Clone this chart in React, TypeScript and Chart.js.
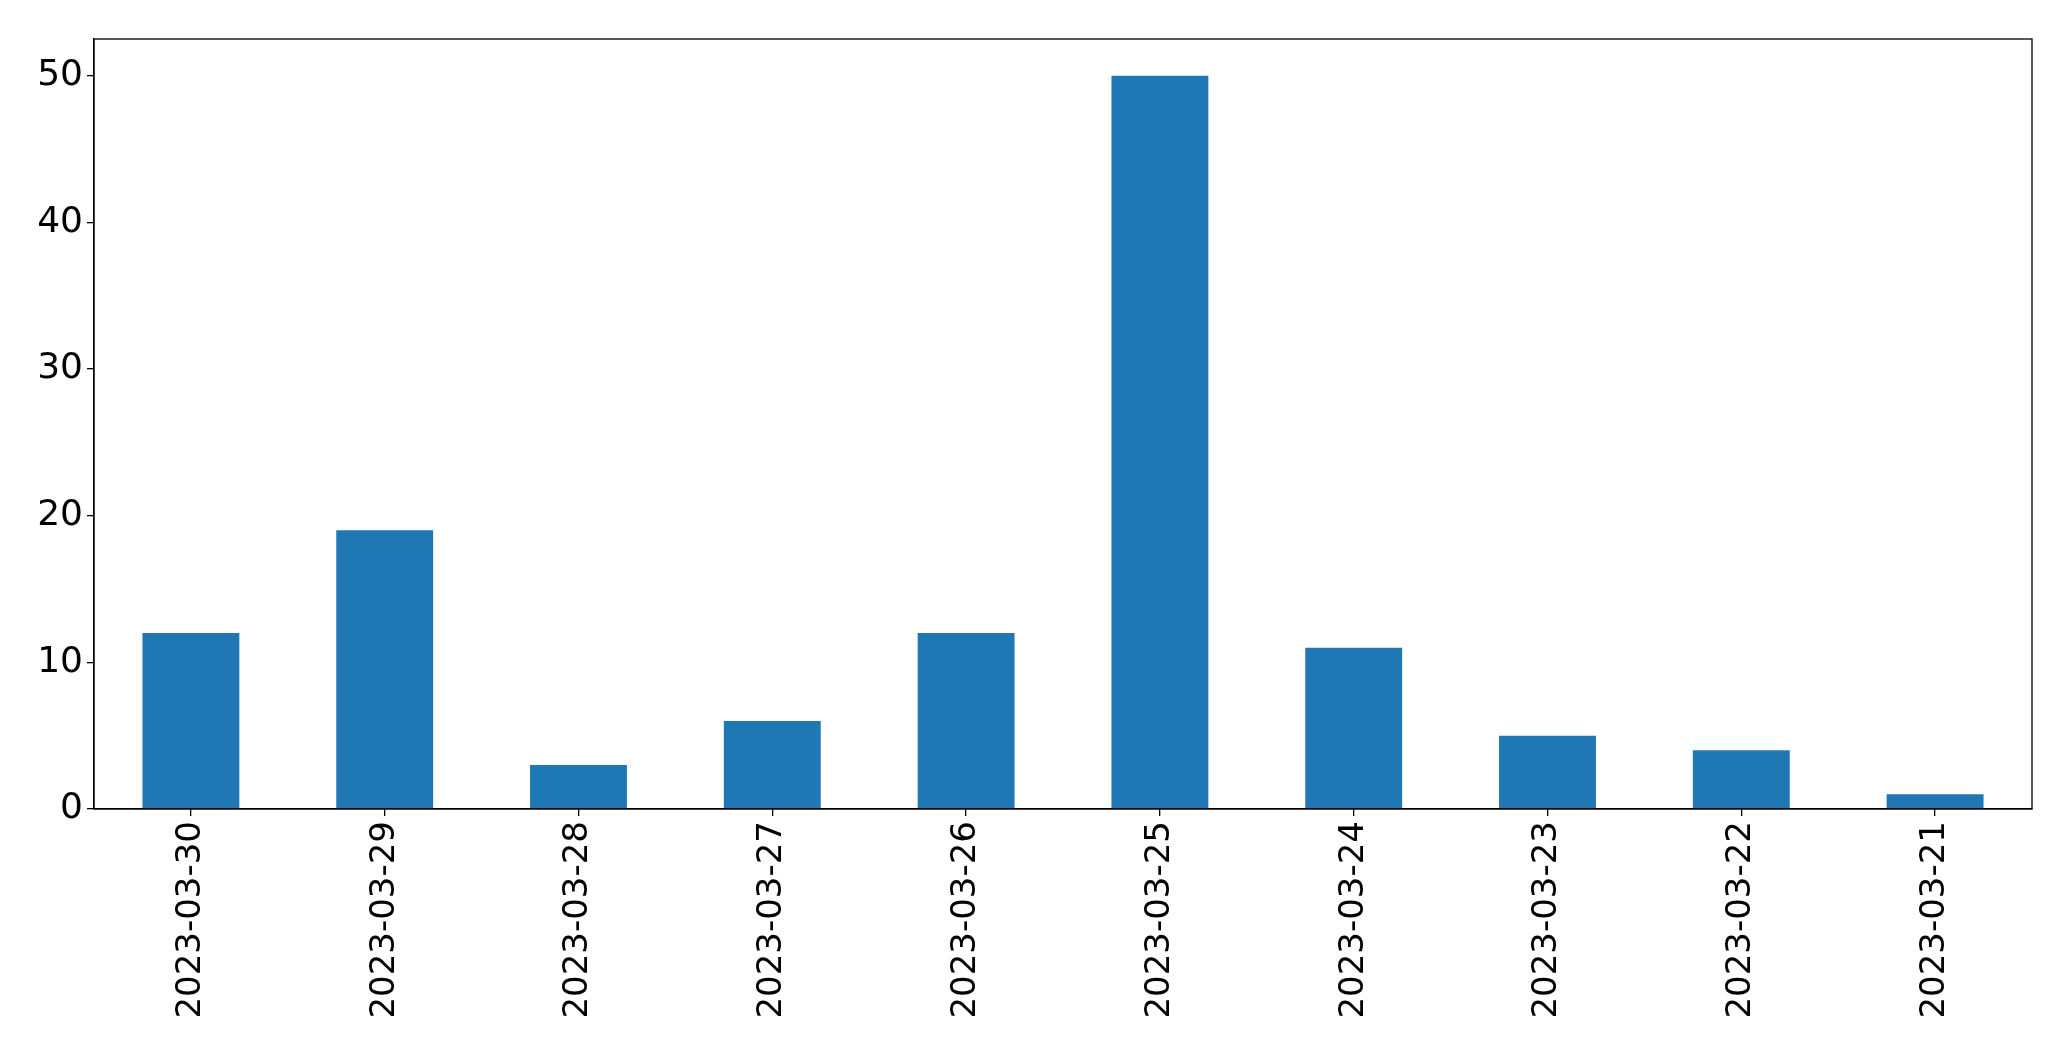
import React, { useEffect, useRef } from "react";
import { Chart, registerables } from "chart.js";

Chart.register(...registerables);

const categories = [
  "2023-03-30",
  "2023-03-29",
  "2023-03-28",
  "2023-03-27",
  "2023-03-26",
  "2023-03-25",
  "2023-03-24",
  "2023-03-23",
  "2023-03-22",
  "2023-03-21",
];
const counts = [12, 19, 3, 6, 12, 50, 11, 5, 4, 1];
const yTicks = [0, 10, 20, 30, 40, 50];

const W = 2071;
const H = 1061;
const LEFT = 94;
const TOP = 39;
const RIGHT = 2032;
const BOTTOM = 809;

const framePlugin = {
  id: "frame",
  afterDraw(chart: any) {
    const { ctx, chartArea } = chart;
    ctx.save();
    ctx.strokeStyle = "#000";
    ctx.lineWidth = 1.3;
    ctx.strokeRect(chartArea.left, chartArea.top, chartArea.right - chartArea.left, chartArea.bottom - chartArea.top);
    ctx.restore();
  },
};

export default function App() {
  const ref = useRef<HTMLCanvasElement>(null);
  useEffect(() => {
    document.body.style.margin = "0";
    const chart = new Chart(ref.current!, {
      type: "bar",
      data: {
        labels: categories,
        datasets: [
          {
            data: counts,
            backgroundColor: "#1f77b4",
            borderWidth: 0,
            categoryPercentage: 1,
            barPercentage: 0.5,
          },
        ],
      },
      options: {
        animation: false,
        responsive: false,
        devicePixelRatio: 1,
        layout: { padding: { left: 0, top: TOP, right: W - RIGHT, bottom: 0 } },
        plugins: { legend: { display: false }, tooltip: { enabled: false } },
        scales: {
          x: {
            offset: true,
            grid: { display: true, drawOnChartArea: false, offset: false, tickLength: 7, color: "#000", lineWidth: 1.3 },
            border: { display: true, color: "#000", width: 1.3 },
            ticks: {
              color: "#000",
              font: { family: "DejaVu Sans", size: 34 },
              minRotation: 90,
              maxRotation: 90,
              autoSkip: false,
              padding: 5,
            },
            afterFit(scale: any) {
              scale.height = H - BOTTOM;
            },
          },
          y: {
            min: 0,
            max: 52.5,
            grid: { display: true, drawOnChartArea: false, tickLength: 7, color: "#000", lineWidth: 1.3 },
            border: { display: true, color: "#000", width: 1.3 },
            ticks: {
              stepSize: 10,
              color: "#000",
              font: { family: "DejaVu Sans", size: 36 },
              padding: 4,
            },
            afterBuildTicks(scale: any) {
              scale.ticks = yTicks.map((v) => ({ value: v }));
            },
            afterFit(scale: any) {
              scale.width = LEFT;
            },
          },
        },
      },
      plugins: [framePlugin],
    });
    return () => chart.destroy();
  }, []);
  return (
    <div style={{ width: W, height: H, background: "#fff" }}>
      <canvas ref={ref} width={W} height={H} style={{ display: "block", width: W, height: H }} />
    </div>
  );
}
